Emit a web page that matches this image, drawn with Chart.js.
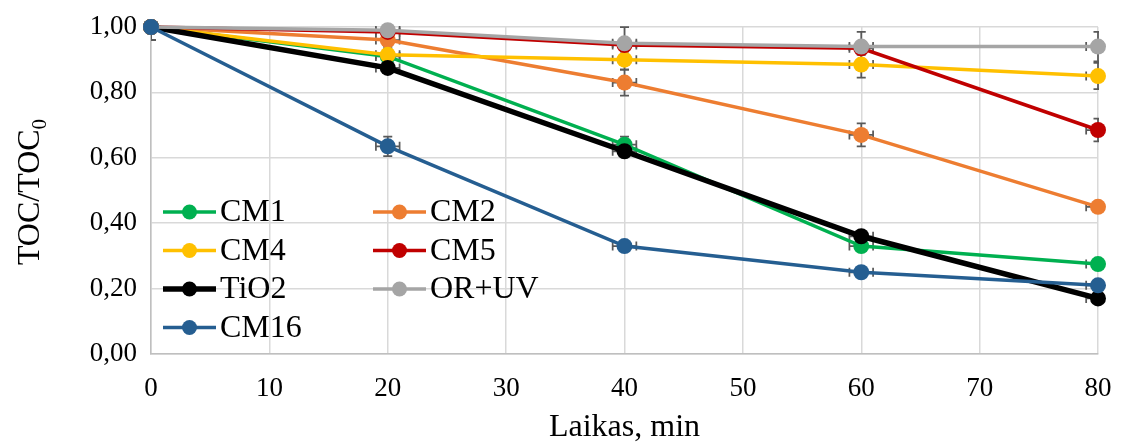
<!DOCTYPE html>
<html>
<head>
<meta charset="utf-8">
<script src="https://cdn.jsdelivr.net/npm/chart.js@4/dist/chart.umd.min.js"></script>
<style>
html,body{margin:0;padding:0;background:#fff;}
#wrap{width:1121px;height:442px;position:relative;}
</style>
</head>
<body>
<div id="wrap"><canvas id="c" width="1121" height="442"></canvas></div>
<script>
const xValues = [0, 20, 40, 60, 80];
const seriesNames = ['CM1', 'CM2', 'CM4', 'CM5', 'TiO2', 'OR+UV', 'CM16'];
const cm1  = [1.00, 0.91, 0.64, 0.33, 0.275];
const cm2  = [1.00, 0.96, 0.83, 0.67, 0.45];
const cm4  = [1.00, 0.915, 0.90, 0.885, 0.85];
const cm5  = [1.00, 0.985, 0.945, 0.935, 0.685];
const tio2 = [1.00, 0.875, 0.62, 0.36, 0.17];
const orUv = [1.00, 0.99, 0.95, 0.94, 0.94];
const cm16 = [1.00, 0.635, 0.33, 0.25, 0.21];
const cm1Err  = [0.04, 0.02, 0.025, 0.015, 0.01];
const cm2Err  = [0.04, 0.02, 0.04, 0.035, 0.015];
const cm4Err  = [0.04, 0.02, 0.03, 0.04, 0.04];
const cm5Err  = [0.04, 0.01, 0.02, 0.02, 0.035];
const tio2Err = [0.04, 0.01, 0.01, 0.01, 0.01];
const orUvErr = [0.04, 0.03, 0.05, 0.045, 0.045];
const cm16Err = [0.04, 0.03, 0.01, 0.01, 0.01];
const timeErr = [1, 1, 1, 1, 1];
const xTickValues = [0, 10, 20, 30, 40, 50, 60, 70, 80];
const yTickLabels = ['0,00', '0,20', '0,40', '0,60', '0,80', '1,00'];
const xTitle = 'Laikas, min';
const yTitleMain = 'TOC/TOC';
const yTitleSub = '0';

const colors = ['#00B050', '#ED7D31', '#FFC000', '#C00000', '#000000', '#A5A5A5', '#255E91'];
const widths = [3.5, 3.5, 3.5, 3.5, 5.5, 3.5, 3.5];
const values = [cm1, cm2, cm4, cm5, tio2, orUv, cm16];
const errs = [cm1Err, cm2Err, cm4Err, cm5Err, tio2Err, orUvErr, cm16Err];
const SERIF = '"Liberation Serif","Times New Roman",serif';

const datasets = seriesNames.map((n, i) => ({
  label: n,
  data: xValues.map((x, j) => ({x: x, y: values[i][j]})),
  borderColor: colors[i],
  backgroundColor: colors[i],
  pointBackgroundColor: colors[i],
  pointBorderColor: colors[i],
  borderWidth: widths[i],
  pointRadius: 8,
  pointBorderWidth: 0,
  tension: 0,
  order: seriesNames.length - 1 - i,
  clip: false,
  errY: errs[i],
  errX: timeErr
}));

const errorBars = {
  id: 'errorBars',
  beforeDatasetsDraw(chart) {
    const {ctx, chartArea: a, scales: {x, y}} = chart;
    ctx.save();
    ctx.beginPath();
    ctx.rect(a.left, a.top - 1, a.right - a.left + 1, a.bottom - a.top + 1);
    ctx.clip();
    ctx.strokeStyle = '#595959';
    ctx.lineWidth = 1.75;
    const cap = 4.5;
    chart.data.datasets.forEach(ds => {
      ds.data.forEach((p, j) => {
        const px = x.getPixelForValue(p.x), py = y.getPixelForValue(p.y);
        const y1 = y.getPixelForValue(p.y + ds.errY[j]), y2 = y.getPixelForValue(p.y - ds.errY[j]);
        const x1 = x.getPixelForValue(p.x - ds.errX[j]), x2 = x.getPixelForValue(p.x + ds.errX[j]);
        ctx.beginPath();
        ctx.moveTo(px, y1); ctx.lineTo(px, y2);
        ctx.moveTo(px - cap, y1); ctx.lineTo(px + cap, y1);
        ctx.moveTo(px - cap, y2); ctx.lineTo(px + cap, y2);
        ctx.moveTo(x1, py); ctx.lineTo(x2, py);
        ctx.moveTo(x1, py - cap); ctx.lineTo(x1, py + cap);
        ctx.moveTo(x2, py - cap); ctx.lineTo(x2, py + cap);
        ctx.stroke();
      });
    });
    ctx.restore();
  }
};

const decorations = {
  id: 'decorations',
  afterDraw(chart) {
    const {ctx, chartArea: a} = chart;
    ctx.save();
    // legend
    ctx.font = '32px ' + SERIF;
    ctx.textBaseline = 'middle';
    ctx.textAlign = 'left';
    const colX = [163, 373];
    const rowY0 = 212, rowH = 38.5;
    chart.data.datasets.forEach((ds, i) => {
      const cx = colX[i % 2], cy = rowY0 + Math.floor(i / 2) * rowH;
      ctx.strokeStyle = ds.borderColor;
      ctx.lineWidth = ds.borderWidth;
      ctx.beginPath(); ctx.moveTo(cx, cy); ctx.lineTo(cx + 53, cy); ctx.stroke();
      ctx.fillStyle = ds.borderColor;
      ctx.beginPath(); ctx.arc(cx + 26.5, cy, 7.5, 0, Math.PI * 2); ctx.fill();
      ctx.fillStyle = '#000';
      ctx.fillText(ds.label, cx + 57, cy + 1);
    });
    // x title
    ctx.font = '32px ' + SERIF;
    ctx.textAlign = 'center';
    ctx.textBaseline = 'alphabetic';
    ctx.fillText(xTitle, (a.left + a.right) / 2, 436);
    // y title
    ctx.translate(39, 192);
    ctx.rotate(-Math.PI / 2);
    const mainW = ctx.measureText(yTitleMain).width;
    ctx.font = '21px ' + SERIF;
    const subW = ctx.measureText(yTitleSub).width;
    const total = mainW + subW;
    ctx.font = '32px ' + SERIF;
    ctx.textAlign = 'left';
    ctx.fillText(yTitleMain, -total / 2, 0);
    ctx.font = '21px ' + SERIF;
    ctx.fillText(yTitleSub, -total / 2 + mainW, 7);
    ctx.restore();
  }
};

new Chart(document.getElementById('c'), {
  type: 'line',
  data: {datasets: datasets},
  plugins: [errorBars, decorations],
  options: {
    responsive: false,
    animation: false,
    devicePixelRatio: 1,
    layout: {padding: {top: 27, right: 23, left: 0, bottom: 0}},
    plugins: {legend: {display: false}, tooltip: {enabled: false}},
    scales: {
      x: {
        type: 'linear', min: 0, max: 80,
        afterBuildTicks(s) { s.ticks = xTickValues.map(v => ({value: v})); },
        afterFit(s) { s.height = 88; s.paddingLeft = 0; s.paddingRight = 0; },
        grid: {color: '#D9D9D9', lineWidth: 1.5, drawTicks: false},
        border: {color: '#BFBFBF', width: 1.5},
        ticks: {font: {family: SERIF, size: 27}, color: '#000', padding: 19, maxRotation: 0}
      },
      y: {
        type: 'linear', min: 0, max: 1,
        afterBuildTicks(s) { s.ticks = yTickLabels.map((t, i) => ({value: i * 0.2})); },
        afterFit(s) { s.width = 151; s.paddingTop = 0; s.paddingBottom = 0; },
        grid: {color: '#D9D9D9', lineWidth: 1.5, drawTicks: false},
        border: {color: '#BFBFBF', width: 1.5},
        ticks: {
          font: {family: SERIF, size: 27}, color: '#000', padding: 14,
          callback: (v, i) => yTickLabels[i]
        }
      }
    }
  }
});
</script>
</body>
</html>
